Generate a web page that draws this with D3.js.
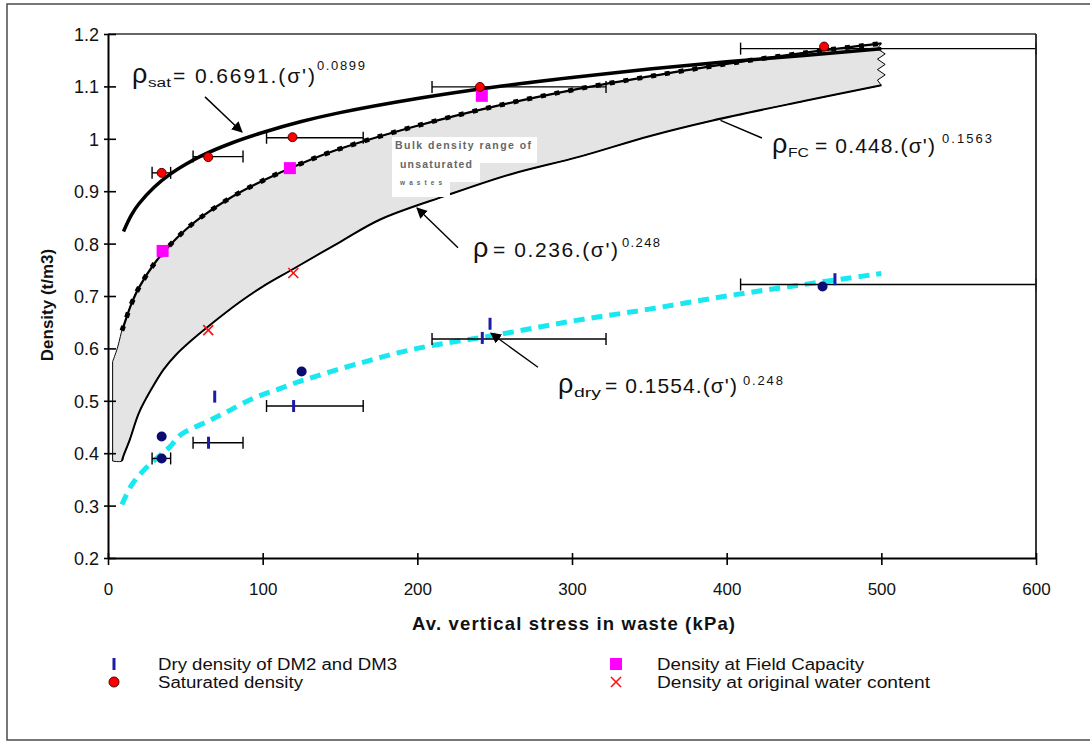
<!DOCTYPE html>
<html>
<head>
<meta charset="utf-8">
<script src="https://cdn.jsdelivr.net/npm/d3@7"></script>
<style>
  body { margin: 0; background: #fff; }
  text { font-family: Arial, "Liberation Sans", sans-serif; }
</style>
</head>
<body>
<svg width="1090" height="742"></svg>
<script>
// ---- data ----
const stressTicks = [0, 100, 200, 300, 400, 500, 600];
const densityTicks = [0.2, 0.3, 0.4, 0.5, 0.6, 0.7, 0.8, 0.9, 1, 1.1, 1.2];

// saturated density curve
const satStress = [10, 15, 20, 30, 40, 50, 60, 80, 100, 125, 150, 200, 250, 300, 350, 400, 450, 500];
const satDensity = [0.823, 0.854, 0.876, 0.908, 0.932, 0.951, 0.967, 0.992, 1.012, 1.033, 1.05, 1.077, 1.099, 1.117, 1.133, 1.147, 1.159, 1.172];

// field capacity curve (upper edge of the band)
const fcStress = [3, 6, 9, 10, 15, 20, 30, 40, 50, 60, 80, 100, 125, 150, 200, 250, 300, 350, 400, 450, 500];
const fcDensity = [0.575, 0.6, 0.634, 0.642, 0.684, 0.716, 0.762, 0.797, 0.826, 0.85, 0.889, 0.92, 0.953, 0.981, 1.025, 1.062, 1.093, 1.119, 1.143, 1.164, 1.182];

// rho = 0.236 curve (lower edge of the band)
const lowStress = [3, 9, 10, 14, 20, 28, 36, 44, 55, 64, 85, 100, 120, 150, 176, 219, 260, 305, 350, 391, 450, 500];
const lowDensity = [0.385, 0.385, 0.395, 0.425, 0.477, 0.522, 0.56, 0.588, 0.618, 0.64, 0.688, 0.718, 0.752, 0.803, 0.846, 0.892, 0.932, 0.966, 1.005, 1.035, 1.072, 1.102];

// dry density curve (cyan dashed)
const dryStress = [9, 15, 22, 34, 40, 47, 66, 77, 94, 109, 124, 163, 200, 250, 300, 350, 400, 450, 500];
const dryDensity = [0.302, 0.338, 0.364, 0.397, 0.412, 0.435, 0.463, 0.479, 0.505, 0.521, 0.537, 0.572, 0.6, 0.625, 0.652, 0.675, 0.7, 0.722, 0.743];

// markers
const satPtStress = [34.7, 64.8, 119.3, 240.5, 463];
const satPtDensity = [0.935, 0.965, 1.003, 1.099, 1.176];
const fcPtStress = [35.3, 117.6, 241.7];
const fcPtDensity = [0.786, 0.944, 1.082];
const origPtStress = [64.8, 119.8];
const origPtDensity = [0.635, 0.744];
const dmPtStress = [65, 69, 120, 242, 247, 470];
const dmPtDensity = [0.42, 0.508, 0.49, 0.62, 0.647, 0.732];
const navyPtStress = [34.7, 34.7, 125.2, 462];
const navyPtDensity = [0.432, 0.39, 0.556, 0.718];

// horizontal error bars
const errLow = [28.5, 55, 102.5, 209.5, 409, 28.5, 55, 102.5, 209.5, 409];
const errHigh = [40.5, 87.3, 165, 322, 600, 40.5, 87.3, 165, 322, 600];
const errDensity = [0.39, 0.42, 0.49, 0.618, 0.722, 0.935, 0.966, 1.002, 1.099, 1.172];

const legendLabels = ["Dry density of DM2 and DM3", "Saturated density", "Density at Field Capacity", "Density at original water content"];

// ---- chart ----
const svg = d3.select("svg");

const x = d3.scaleLinear().domain([0, 600]).range([108, 1036]);
const y = d3.scaleLinear().domain([0.2, 1.2]).range([558, 34]);

const pts = (xs, ys) => xs.map((s, i) => [s, ys[i]]);
const line = d3.line().x(d => x(d[0])).y(d => y(d[1]));
const smooth = d3.line().x(d => x(d[0])).y(d => y(d[1])).curve(d3.curveCatmullRom.alpha(0.5));

// outer frame
svg.append("rect")
  .attr("x", 7).attr("y", 4).attr("width", 1100).attr("height", 736)
  .attr("fill", "none").attr("stroke", "#555").attr("stroke-width", 1.6);

svg.append("defs").append("marker")
  .attr("id", "head")
  .attr("viewBox", "0 0 10 10")
  .attr("refX", 9).attr("refY", 5)
  .attr("markerWidth", 11).attr("markerHeight", 11)
  .attr("markerUnits", "userSpaceOnUse")
  .attr("orient", "auto")
  .append("path").attr("d", "M0,0L10,5L0,10z").attr("fill", "#000");

// band of unsaturated bulk density
const upper = pts(fcStress, fcDensity);
const lower = pts(lowStress, lowDensity);
const fcEnd = fcDensity[fcDensity.length - 1], lowEnd = lowDensity[lowDensity.length - 1];
const zig = d3.range(1, 8).map(i => [500 + (i % 2 ? -2.5 : 2.5), fcEnd - i * (fcEnd - lowEnd) / 8]);
const bandPath = smooth(upper) + line(zig).replace("M", "L") + smooth(lower.slice().reverse()).replace("M", "L") + "Z";

svg.append("path")
  .attr("d", bandPath)
  .attr("fill", "#e4e4e4")
  .attr("stroke", "#000")
  .attr("stroke-width", 1);

// lower curve
svg.append("path")
  .attr("d", smooth(lower.filter(d => d[0] >= 9)))
  .attr("fill", "none").attr("stroke", "#000").attr("stroke-width", 2);

// field capacity curve (bumpy)
const fcThick = upper.filter(d => d[0] >= 9);
svg.append("path")
  .attr("d", smooth(fcThick))
  .attr("fill", "none").attr("stroke", "#000").attr("stroke-width", 2.2);
svg.append("path")
  .attr("d", smooth(fcThick))
  .attr("fill", "none").attr("stroke", "#000").attr("stroke-width", 4.8)
  .attr("stroke-dasharray", "5,9");

// saturated curve
svg.append("path")
  .attr("d", smooth(pts(satStress, satDensity)))
  .attr("fill", "none").attr("stroke", "#000").attr("stroke-width", 3.5);

// dry curve
svg.append("path")
  .attr("d", smooth(pts(dryStress, dryDensity)))
  .attr("fill", "none").attr("stroke", "#19e8f0").attr("stroke-width", 5)
  .attr("stroke-dasharray", "11,7");

// error bars
const eb = svg.append("g").attr("stroke", "#000").attr("stroke-width", 1.4);
errDensity.forEach((d, i) => {
  eb.append("line").attr("x1", x(errLow[i])).attr("x2", x(errHigh[i])).attr("y1", y(d)).attr("y2", y(d));
  [errLow[i], errHigh[i]].forEach(s => {
    eb.append("line").attr("x1", x(s)).attr("x2", x(s)).attr("y1", y(d) - 6).attr("y2", y(d) + 6);
  });
});

// markers
svg.append("g").selectAll("circle")
  .data(pts(navyPtStress, navyPtDensity)).enter().append("circle")
  .attr("cx", d => x(d[0])).attr("cy", d => y(d[1])).attr("r", 5)
  .attr("fill", "#0b0b72");

svg.append("g").selectAll("rect")
  .data(pts(dmPtStress, dmPtDensity)).enter().append("rect")
  .attr("x", d => x(d[0]) - 1.5).attr("y", d => y(d[1]) - 6)
  .attr("width", 3).attr("height", 12).attr("fill", "#1c1ca8");

svg.append("g").selectAll("rect")
  .data(pts(fcPtStress, fcPtDensity)).enter().append("rect")
  .attr("x", d => x(d[0]) - 6).attr("y", d => y(d[1]) - 6)
  .attr("width", 12).attr("height", 12).attr("fill", "#ff00ff");

svg.append("g").selectAll("circle")
  .data(pts(satPtStress, satPtDensity)).enter().append("circle")
  .attr("cx", d => x(d[0])).attr("cy", d => y(d[1])).attr("r", 4.5)
  .attr("fill", "#ff0000").attr("stroke", "#5a0000").attr("stroke-width", 1);

const xg = svg.append("g").attr("stroke", "#ff1010").attr("stroke-width", 1.6);
pts(origPtStress, origPtDensity).forEach(d => {
  const cx = x(d[0]), cy = y(d[1]);
  xg.append("line").attr("x1", cx - 5).attr("x2", cx + 5).attr("y1", cy - 5).attr("y2", cy + 5);
  xg.append("line").attr("x1", cx - 5).attr("x2", cx + 5).attr("y1", cy + 5).attr("y2", cy - 5);
});

// plot frame
svg.append("line").attr("x1", x(0)).attr("x2", x(600)).attr("y1", y(1.2)).attr("y2", y(1.2))
  .attr("stroke", "#333").attr("stroke-width", 1.6);
svg.append("line").attr("x1", x(600)).attr("x2", x(600)).attr("y1", y(1.2)).attr("y2", y(0.2))
  .attr("stroke", "#222").attr("stroke-width", 1.8);

// axes
const yAxis = svg.append("g").attr("transform", `translate(${x(0)},0)`)
  .call(d3.axisLeft(y).tickValues(densityTicks).tickSize(0).tickFormat(d3.format("")));
yAxis.select(".domain").attr("stroke", "#000").attr("stroke-width", 2);
yAxis.selectAll(".tick line").attr("x1", -4).attr("x2", 8).attr("stroke", "#000").attr("stroke-width", 1.6);
yAxis.selectAll(".tick text").attr("x", -9).attr("dy", "0.36em")
  .attr("font-size", 18).attr("fill", "#111");

const xAxis = svg.append("g").attr("transform", `translate(0,${y(0.2)})`)
  .call(d3.axisBottom(x).tickValues(stressTicks).tickSize(0));
xAxis.select(".domain").attr("stroke", "#000").attr("stroke-width", 2);
xAxis.selectAll(".tick line").attr("y1", -5).attr("y2", 7).attr("stroke", "#000").attr("stroke-width", 1.6);
xAxis.selectAll(".tick text").attr("y", 37).attr("dy", 0)
  .attr("font-size", 17).attr("fill", "#111");

// axis titles
svg.append("text")
  .attr("transform", "translate(53,305) rotate(-90)")
  .attr("text-anchor", "middle")
  .attr("font-size", 17).attr("font-weight", "bold").attr("fill", "#111")
  .text("Density (t/m3)");

svg.append("text")
  .attr("x", 412).attr("y", 630)
  .attr("textLength", 323).attr("lengthAdjust", "spacing")
  .attr("font-size", 18.5).attr("font-weight", "bold").attr("fill", "#111")
  .text("Av. vertical stress in waste (kPa)");

// equations
const equations = [
  { s: 15.5, d: 1.1065, sub: "sat", subDx: 16, subW: 23, main: "= 0.6691.(σ')", mainDx: 41, mainW: 142, sup: "0.0899", supDx: 185, supW: 48, supDy: -13 },
  { s: 429.3, d: 0.973, sub: "FC", subDx: 16, subW: 21, main: "= 0.448.(σ')", mainDx: 43, mainW: 120, sup: "0.1563", supDx: 170, supW: 50, supDy: -10 },
  { s: 236, d: 0.7744, sub: "", subDx: 0, subW: 0, main: "= 0.236.(σ')", mainDx: 20, mainW: 125, sup: "0.248", supDx: 149, supW: 38, supDy: -10 },
  { s: 290.9, d: 0.515, sub: "dry", subDx: 16, subW: 27, main: "= 0.1554.(σ')", mainDx: 47, mainW: 132, sup: "0.248", supDx: 185, supW: 40, supDy: -8 }
];
equations.forEach(e => {
  const ex = x(e.s), ey = y(e.d);
  const g = svg.append("g").attr("fill", "#111");
  g.append("text").attr("x", ex).attr("y", ey).attr("font-size", 27).text("ρ");
  if (e.sub) {
    g.append("text").attr("x", ex + e.subDx).attr("y", ey + 4).attr("font-size", 12)
      .attr("textLength", e.subW).attr("lengthAdjust", "spacingAndGlyphs").text(e.sub);
  }
  g.append("text").attr("x", ex + e.mainDx).attr("y", ey).attr("font-size", 21)
    .attr("textLength", e.mainW).attr("lengthAdjust", "spacing").text(e.main);
  g.append("text").attr("x", ex + e.supDx).attr("y", ey + e.supDy).attr("font-size", 13)
    .attr("textLength", e.supW).attr("lengthAdjust", "spacing").text(e.sup);
});

// arrows
const arrows = [
  { from: [62.7, 1.08], to: [86.6, 1.013], head: true },
  { from: [422.8, 1.0015], to: [396, 1.035], head: false },
  { from: [226.3, 0.792], to: [199.8, 0.868], head: true },
  { from: [278, 0.564], to: [247.6, 0.629], head: true }
];
arrows.forEach(a => {
  svg.append("line")
    .attr("x1", x(a.from[0])).attr("y1", y(a.from[1]))
    .attr("x2", x(a.to[0])).attr("y2", y(a.to[1]))
    .attr("stroke", "#000").attr("stroke-width", 1.4)
    .attr("marker-end", a.head ? "url(#head)" : null);
});

// "Bulk density range" note box
const noteBox = [[183.6, 1.0034], [277.4, 1.0034], [277.4, 0.9538], [240.5, 0.9538], [240.5, 0.9176], [221.1, 0.9176], [221.1, 0.889], [183.6, 0.889]];
svg.append("path").attr("d", line(noteBox) + "Z").attr("fill", "#fff");
const noteLines = [
  { t: "Bulk density range of", s: 185.6, d: 0.9805, size: 10.5, w: 136 },
  { t: "unsaturated", s: 188.8, d: 0.9443, size: 10.5, w: 72 },
  { t: "wastes", s: 188.8, d: 0.9118, size: 6.5, w: 42 }
];
noteLines.forEach(n => {
  svg.append("text").attr("x", x(n.s)).attr("y", y(n.d))
    .attr("font-size", n.size).attr("font-weight", "bold").attr("fill", "#666")
    .attr("textLength", n.w).attr("lengthAdjust", "spacing").text(n.t);
});

// legend
const legendX = [114, 616];
const legendTextX = [158, 657];
const legendRowY = [664, 682];
const legendW = [239, 145, 207, 273];
const lg = svg.append("g");
lg.append("rect").attr("x", legendX[0] - 1.5).attr("y", legendRowY[0] - 6).attr("width", 3).attr("height", 12).attr("fill", "#1c1ca8");
lg.append("circle").attr("cx", legendX[0]).attr("cy", legendRowY[1]).attr("r", 5)
  .attr("fill", "#ff0000").attr("stroke", "#5a0000").attr("stroke-width", 1);
lg.append("rect").attr("x", legendX[1] - 6).attr("y", legendRowY[0] - 6).attr("width", 12).attr("height", 12).attr("fill", "#ff00ff");
lg.append("line").attr("x1", legendX[1] - 5).attr("x2", legendX[1] + 5).attr("y1", legendRowY[1] - 5).attr("y2", legendRowY[1] + 5).attr("stroke", "#ff1010").attr("stroke-width", 1.6);
lg.append("line").attr("x1", legendX[1] - 5).attr("x2", legendX[1] + 5).attr("y1", legendRowY[1] + 5).attr("y2", legendRowY[1] - 5).attr("stroke", "#ff1010").attr("stroke-width", 1.6);
legendLabels.forEach((t, i) => {
  lg.append("text")
    .attr("x", legendTextX[Math.floor(i / 2)])
    .attr("y", legendRowY[i % 2] + 6)
    .attr("font-size", 16).attr("fill", "#111")
    .attr("textLength", legendW[i]).attr("lengthAdjust", "spacingAndGlyphs")
    .text(t);
});
</script>
</body>
</html>
